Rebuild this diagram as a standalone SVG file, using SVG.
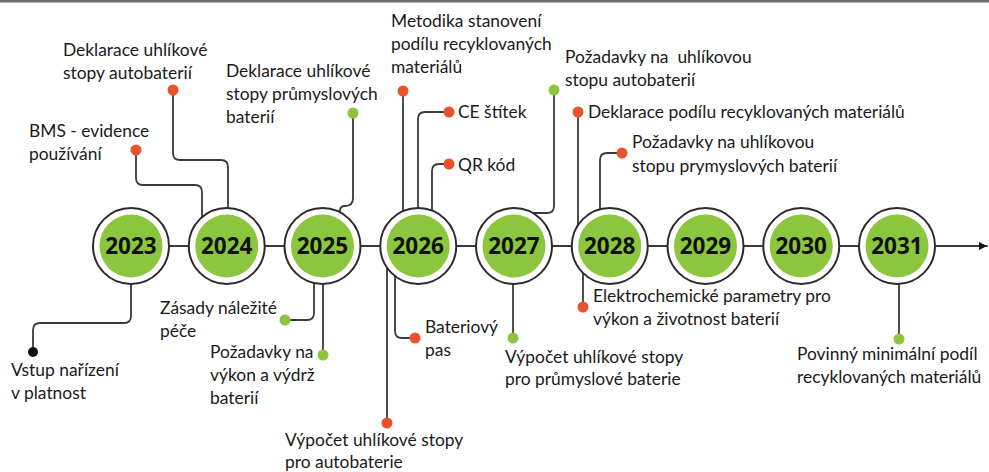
<svg xmlns="http://www.w3.org/2000/svg" width="989" height="472" viewBox="0 0 989 472">
<defs>
<style>
.conn{fill:none;stroke:#3a3a3a;stroke-width:1.8;stroke-linecap:round;stroke-linejoin:round}
.ring{fill:#fff;stroke:#2b2b2b;stroke-width:2}
.core{fill:#8cc63e}
.year{font-family:"Noto Sans","DejaVu Sans",sans-serif;font-weight:700;font-size:22.5px;fill:#111;text-anchor:middle}
.lbl{font-family:Lato,"Liberation Sans",sans-serif;font-size:17.4px;fill:#1a1a1a}
.or{fill:#e9532b}
.gr{fill:#8cc63e}
.bk{fill:#111}
</style>
<marker id="arr" viewBox="0 0 10 10" refX="10" refY="5" markerWidth="8" markerHeight="8" markerUnits="userSpaceOnUse" orient="auto">
<path d="M0,0 L10,5 L0,10 z" fill="#111"/>
</marker>
</defs>
<rect x="0" y="0" width="989" height="2.5" fill="#6d6d6d"/>
<g id="connectors">
<path class="conn" d="M169,246 H987" marker-end="url(#arr)"/>
<path class="conn" d="M131,270 V316 Q131,323 124,323 H40 Q33,323 33,330 V352"/>
<path class="conn" d="M136,150 V178 Q136,185 143,185 H195 Q202,185 202,192 V225"/>
<path class="conn" d="M173,90 V153 Q173,160 180,160 H221 Q228,160 228,167 V220"/>
<path class="conn" d="M353,113 V198 Q353,206 345,206 H345 Q340,206 340,211 V220"/>
<path class="conn" d="M403,91 V220"/>
<path class="conn" d="M449,112 H425 Q418,112 418,119 V220"/>
<path class="conn" d="M449,164 H439 Q432,164 432,171 V220"/>
<path class="conn" d="M554,90 V206 Q554,213 547,213 H525"/>
<path class="conn" d="M578,112 V232"/>
<path class="conn" d="M622,153 H607 Q600,153 600,160 V220"/>
<path class="conn" d="M314,270 V313 Q314,320 307,320 H285"/>
<path class="conn" d="M323,270 V355"/>
<path class="conn" d="M387,260 V423"/>
<path class="conn" d="M395,265 V331 Q395,338 402,338 H415"/>
<path class="conn" d="M513,270 V338"/>
<path class="conn" d="M583,262 V307"/>
<path class="conn" d="M899,270 V339"/>
</g>
<g id="y2023"><circle class="ring" cx="131" cy="246" r="38"/><circle class="core" cx="131" cy="246" r="31.5"/><text class="year" x="131" y="254">2023</text></g>
<g id="y2024"><circle class="ring" cx="226.75" cy="246" r="38"/><circle class="core" cx="226.75" cy="246" r="31.5"/><text class="year" x="226.75" y="254">2024</text></g>
<g id="y2025"><circle class="ring" cx="322.5" cy="246" r="38"/><circle class="core" cx="322.5" cy="246" r="31.5"/><text class="year" x="322.5" y="254">2025</text></g>
<g id="y2026"><circle class="ring" cx="418.25" cy="246" r="38"/><circle class="core" cx="418.25" cy="246" r="31.5"/><text class="year" x="418.25" y="254">2026</text></g>
<g id="y2027"><circle class="ring" cx="514" cy="246" r="38"/><circle class="core" cx="514" cy="246" r="31.5"/><text class="year" x="514" y="254">2027</text></g>
<g id="y2028"><circle class="ring" cx="609.75" cy="246" r="38"/><circle class="core" cx="609.75" cy="246" r="31.5"/><text class="year" x="609.75" y="254">2028</text></g>
<g id="y2029"><circle class="ring" cx="705.5" cy="246" r="38"/><circle class="core" cx="705.5" cy="246" r="31.5"/><text class="year" x="705.5" y="254">2029</text></g>
<g id="y2030"><circle class="ring" cx="801.25" cy="246" r="38"/><circle class="core" cx="801.25" cy="246" r="31.5"/><text class="year" x="801.25" y="254">2030</text></g>
<g id="y2031"><circle class="ring" cx="897" cy="246" r="38"/><circle class="core" cx="897" cy="246" r="31.5"/><text class="year" x="897" y="254">2031</text></g>

<g id="e-vstup"><circle class="bk" cx="33" cy="352" r="5"/><text class="lbl" x="11" y="376"><tspan x="11">Vstup nařízení</tspan><tspan x="11" dy="23">v platnost</tspan></text></g>
<g id="e-bms"><circle class="or" cx="136" cy="150" r="5.5"/><text class="lbl" x="29" y="137"><tspan x="29">BMS - evidence</tspan><tspan x="29" dy="23">používání</tspan></text></g>
<g id="e-dekl-auto"><circle class="or" cx="173" cy="90" r="5.5"/><text class="lbl" x="63" y="56"><tspan x="63">Deklarace uhlíkové</tspan><tspan x="63" dy="23">stopy autobaterií</tspan></text></g>
<g id="e-dekl-prum"><circle class="gr" cx="353" cy="113" r="5.5"/><text class="lbl" x="226" y="77"><tspan x="226">Deklarace uhlíkové</tspan><tspan x="226" dy="23">stopy průmyslových</tspan><tspan x="226" dy="23">baterií</tspan></text></g>
<g id="e-zasady"><circle class="gr" cx="285" cy="320" r="5.5"/><text class="lbl" x="160" y="314"><tspan x="160">Zásady náležité</tspan><tspan x="160" dy="23">péče</tspan></text></g>
<g id="e-pozad-vykon"><circle class="gr" cx="323" cy="355" r="5.5"/><text class="lbl" x="210" y="358"><tspan x="210">Požadavky na</tspan><tspan x="210" dy="23">výkon a výdrž</tspan><tspan x="210" dy="23">baterií</tspan></text></g>
<g id="e-metodika"><circle class="or" cx="403" cy="91" r="5.5"/><text class="lbl" x="391" y="27"><tspan x="391">Metodika stanovení</tspan><tspan x="391" dy="23">podílu recyklovaných</tspan><tspan x="391" dy="23">materiálů</tspan></text></g>
<g id="e-ce"><circle class="or" cx="449" cy="112" r="5.5"/><text class="lbl" x="458" y="118">CE štítek</text></g>
<g id="e-qr"><circle class="or" cx="449" cy="164" r="5.5"/><text class="lbl" x="458" y="171">QR kód</text></g>
<g id="e-vypocet-auto"><circle class="or" cx="387" cy="423" r="5.5"/><text class="lbl" x="285" y="446"><tspan x="285">Výpočet uhlíkové stopy</tspan><tspan x="285" dy="22">pro autobaterie</tspan></text></g>
<g id="e-pas"><circle class="or" cx="415" cy="338" r="5.5"/><text class="lbl" x="425" y="333"><tspan x="425">Bateriový</tspan><tspan x="425" dy="23">pas</tspan></text></g>
<g id="e-pozad-auto"><circle class="gr" cx="554" cy="90" r="5.5"/><text class="lbl" x="565" y="63"><tspan x="565" xml:space="preserve">Požadavky na  uhlíkovou</tspan><tspan x="565" dy="23">stopu autobaterií</tspan></text></g>
<g id="e-vypocet-prum"><circle class="gr" cx="513" cy="338" r="5.5"/><text class="lbl" x="505" y="363"><tspan x="505">Výpočet uhlíkové stopy</tspan><tspan x="505" dy="22">pro průmyslové baterie</tspan></text></g>
<g id="e-dekl-podil"><circle class="or" cx="578" cy="112" r="5.5"/><text class="lbl" x="588" y="118">Deklarace podílu recyklovaných materiálů</text></g>
<g id="e-pozad-prum"><circle class="or" cx="622" cy="153" r="5.5"/><text class="lbl" x="632" y="148"><tspan x="632">Požadavky na uhlíkovou</tspan><tspan x="632" dy="24">stopu prymyslových baterií</tspan></text></g>
<g id="e-elektro"><circle class="or" cx="583" cy="307" r="5.5"/><text class="lbl" x="593" y="302"><tspan x="593">Elektrochemické parametry pro</tspan><tspan x="593" dy="23">výkon a životnost baterií</tspan></text></g>
<g id="e-povinny"><circle class="gr" cx="899" cy="339" r="5.5"/><text class="lbl" x="797" y="360"><tspan x="797">Povinný minimální podíl</tspan><tspan x="797" dy="23">recyklovaných materiálů</tspan></text></g>
</svg>
